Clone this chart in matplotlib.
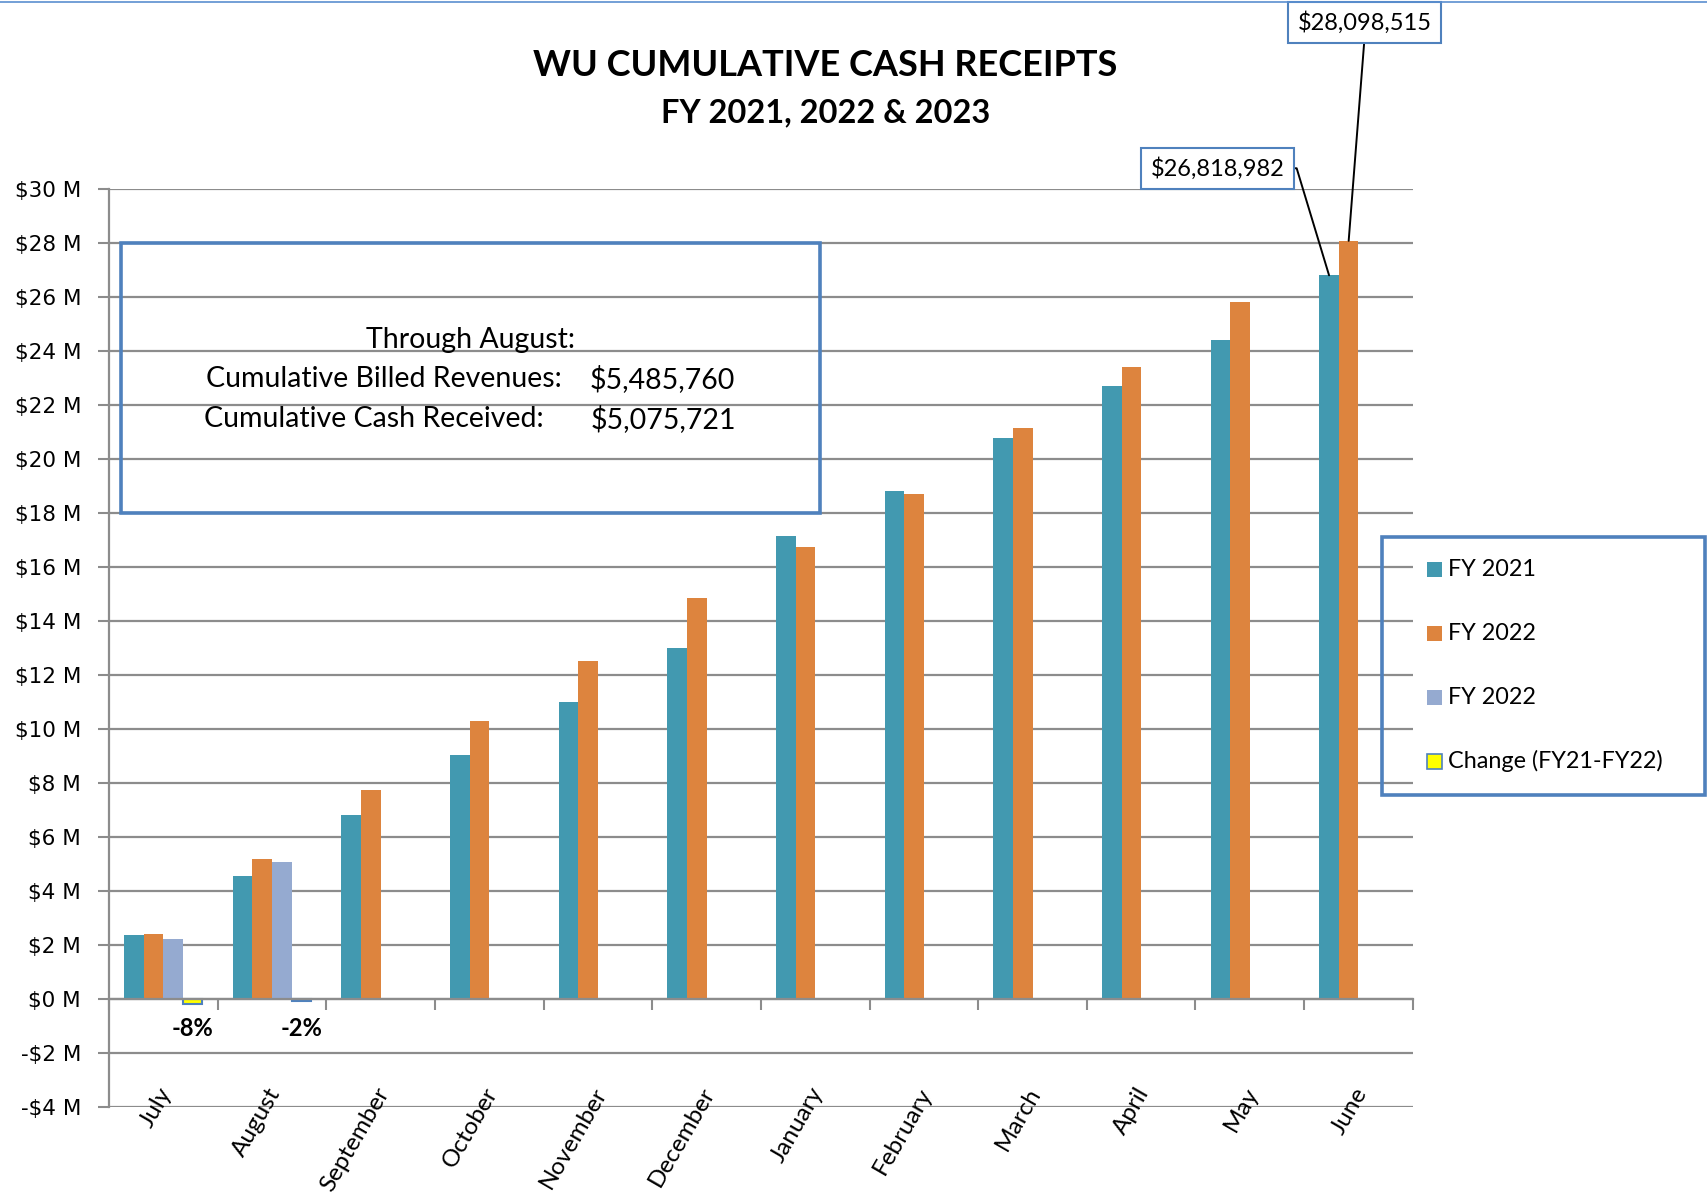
import numpy as np
import matplotlib.pyplot as plt
from matplotlib.patches import Rectangle
from matplotlib.lines import Line2D

plt.rcParams['font.family'] = ['Lato', 'DejaVu Sans']

months = ['July', 'August', 'September', 'October', 'November', 'December',
          'January', 'February', 'March', 'April', 'May', 'June']
# cumulative cash receipts, $ millions
fy21 = [2.38, 4.56, 6.80, 9.04, 10.99, 13.02, 17.16, 18.81, 20.78, 22.73, 24.42, 26.818982]
fy22 = [2.42, 5.17, 7.74, 10.28, 12.54, 14.87, 16.76, 18.73, 21.16, 23.43, 25.84, 28.098515]
fy23 = [2.22, 5.075721]
change = [-0.18, -0.08]
change_lbl = ['-8%', '-2%']

series_names = ['FY 2021', 'FY 2022', 'FY 2022', 'Change (FY21-FY22)']
colors = ['#4299B0', '#DD843E', '#95AAD0', '#FFFF00']
box_blue = '#4F81BD'
grid_c = '#8C8C8C'

fig = plt.figure(figsize=(17.08, 11.96), dpi=100)
ax = fig.add_axes([0.06376, 0.07467, 0.76341, 0.76689])

x = np.arange(len(months))
w = 0.1805
off0 = 0.139 + w / 2
ax.bar(x + off0, fy21, w, color=colors[0], edgecolor='none', zorder=3)
ax.bar(x + off0 + w, fy22, w, color=colors[1], edgecolor='none', zorder=3)
ax.bar(x[:len(fy23)] + off0 + 2 * w, fy23, w, color=colors[2], edgecolor='none', zorder=3)
ax.bar(x[:len(change)] + off0 + 3 * w, change, w, color=colors[3], edgecolor=box_blue,
       linewidth=1.5, zorder=3)
for i, t in enumerate(change_lbl):
    ax.text(x[i] + off0 + 3 * w, -1.1, t, ha='center', va='center',
            fontsize=17, fontweight='bold')

ax.set_xlim(0, 12)
ax.set_ylim(-4, 30)
ax.set_yticks(np.arange(-4, 31, 2))
ax.set_yticklabels([('-$%d M' % -v) if v < 0 else ('$%d M' % v) for v in range(-4, 31, 2)],
                   family='DejaVu Sans', fontsize=15.5)
ax.yaxis.grid(True, color=grid_c, linewidth=1.6, zorder=0)
ax.tick_params(axis='y', length=8, width=1.5, color=grid_c, pad=12)
ax.set_xticks(np.arange(0, 13))
ax.set_xticklabels([])
ax.tick_params(axis='x', length=8, width=1.5, color=grid_c, direction='out')
ax.spines['bottom'].set_position(('data', 0))
for s in ['top', 'right']:
    ax.spines[s].set_visible(False)
for s in ['left', 'bottom']:
    ax.spines[s].set_color(grid_c)
    ax.spines[s].set_linewidth(1.6)
    ax.spines[s].set_zorder(4)

for i, m in enumerate(months):
    ax.text(x[i] + 0.53, -3.35, m, rotation=60, ha='right', va='center',
            rotation_mode='anchor', fontsize=17.5)

# titles
fig.text(0.4834, 0.9453, 'WU CUMULATIVE CASH RECEIPTS', ha='center', va='center',
         fontsize=26, fontweight='bold')
fig.text(0.4834, 0.9053, 'FY 2021, 2022 & 2023', ha='center', va='center',
         fontsize=23.5, fontweight='bold')

# top border line
fig.add_artist(Line2D([0, 1], [0.9985, 0.9985], color='#5B8FD0', linewidth=1.2))

# summary text box
fig.patches.append(Rectangle((0.0708, 0.5710), 0.4094, 0.2259, transform=fig.transFigure,
                             fill=False, edgecolor=box_blue, linewidth=2.6, zorder=5))
fig.text(0.2755, 0.7158, 'Through August:', ha='center', va='center', fontsize=20.5)
fig.text(0.1205, 0.6831, 'Cumulative Billed Revenues:', ha='left', va='center', fontsize=20.5)
fig.text(0.3450, 0.6831, '$5,485,760', ha='left', va='center', fontsize=20.5)
fig.text(0.1197, 0.6493, 'Cumulative Cash Received:', ha='left', va='center', fontsize=20.5)
fig.text(0.3456, 0.6493, '$5,075,721', ha='left', va='center', fontsize=20.5)

# legend
fig.patches.append(Rectangle((0.8092, 0.3353), 0.1890, 0.2157, transform=fig.transFigure,
                             fill=False, edgecolor=box_blue, linewidth=2.6, zorder=5))
leg_y = [0.5237, 0.4700, 0.4170, 0.3634]
for name, c, yy in zip(series_names, colors, leg_y):
    ec = box_blue if c == '#FFFF00' else 'none'
    fig.patches.append(Rectangle((0.8355, yy - 0.0063), 0.0088, 0.0126,
                                 transform=fig.transFigure, facecolor=c,
                                 edgecolor=ec, linewidth=1.2))
    fig.text(0.8476, yy, name, ha='left', va='center', fontsize=16.8)

# callouts for June
bbox = dict(boxstyle='square,pad=0.4', fc='white', ec=box_blue, lw=1.5)
ax.annotate('$%s' % format(round(fy21[-1] * 1e6), ','),
            xy=(x[-1] + off0, fy21[-1]), xycoords='data',
            xytext=(0.713, 0.8593), textcoords='figure fraction',
            ha='center', va='center', fontsize=17, bbox=bbox,
            arrowprops=dict(arrowstyle='-', color='black', lw=1.4, relpos=(1, 0.5),
                            shrinkA=0, shrinkB=0,
                            connectionstyle='arc,angleA=0,armA=12,angleB=90,armB=0,rad=0'),
            zorder=6)
ax.annotate('$%s' % format(round(fy22[-1] * 1e6), ','),
            xy=(x[-1] + off0 + w, fy22[-1]), xycoords='data',
            xytext=(0.7991, 0.9813), textcoords='figure fraction',
            ha='center', va='center', fontsize=17, bbox=bbox,
            arrowprops=dict(arrowstyle='-', color='black', lw=1.4, relpos=(0.5, 0),
                            shrinkA=0, shrinkB=0),
            zorder=6)

plt.savefig('out.png', dpi=100)
